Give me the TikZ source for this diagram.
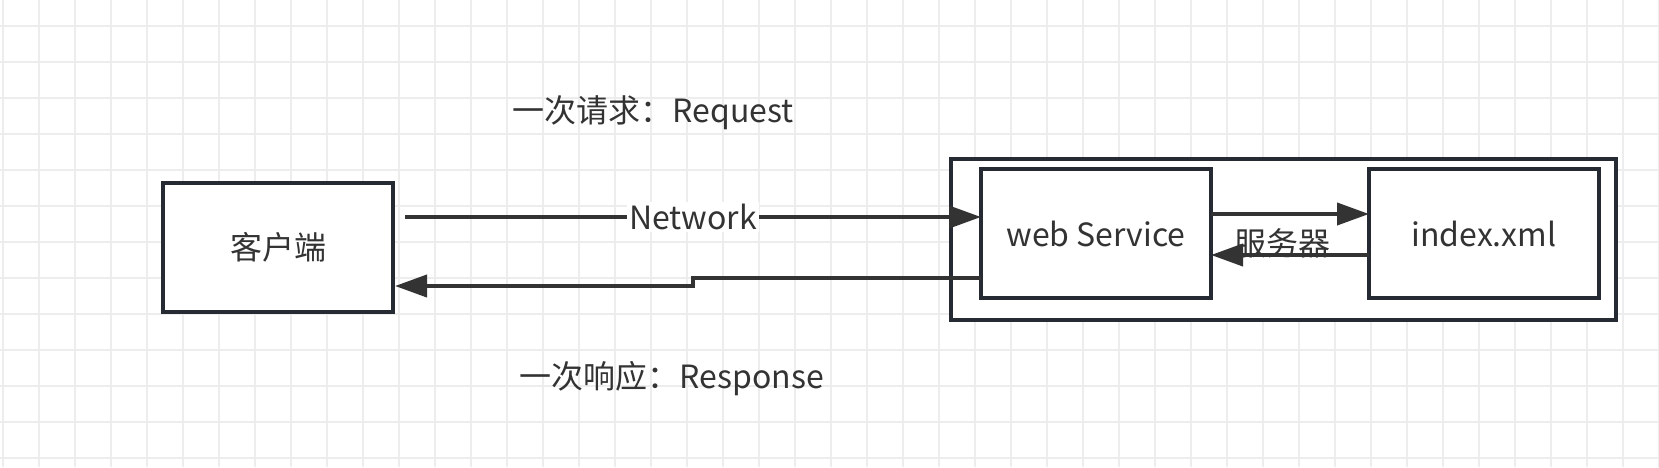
\documentclass[tikz,border=0pt]{standalone}
\usepackage{fontspec}
\setmainfont{Noto Sans CJK SC}
\usetikzlibrary{arrows.meta, positioning}
\definecolor{boxline}{HTML}{262B33}
\definecolor{arrowline}{HTML}{333333}
\definecolor{textcol}{HTML}{333333}
\definecolor{gridcol}{HTML}{EDEDED}

\begin{document}
\begin{tikzpicture}[
  x=0.5pt, y=-0.5pt,
  box/.style={rectangle, draw=boxline, line width=2pt, fill=white,
              minimum width=115pt, minimum height=64.5pt, outer sep=0pt,
              align=center, text=textcol, font=\fontsize{16}{19}\selectfont},
  frame/.style={rectangle, draw=boxline, line width=2pt, fill=white,
              minimum width=332.5pt, minimum height=80.5pt, outer sep=0pt},
  arrow/.style={-{Triangle[length=16pt, width=11pt]}, line width=2pt, draw=arrowline},
  txt/.style={text=textcol, font=\fontsize{16}{19}\selectfont, inner sep=1pt},
  gridline/.style={draw=gridcol, line width=0.75pt}
]
\useasboundingbox (0,0) rectangle (1659,467);

% background grid
\foreach \gx in {3,39,...,1659} \draw[gridline] (\gx,0) -- (\gx,467);
\foreach \gy in {26,62,...,467} \draw[gridline] (0,\gy) -- (1659,\gy);

\node[box] (client) at (278,247) {客户端};
\node[frame] (server) at (1283.5,239.5) {};
\node[box] (web) at (1096,233.5) {web Service};
\node[box, right=79pt of web] (index) {index.xml};

\node[txt] (request) at (653,113) {一次请求：Request};
\node[txt] (response) at (672,379) {一次响应：Response};

% client <-> web service
\coordinate (netstart) at (405,217);
\coordinate (bend) at (693,278);
\draw[arrow] (netstart) -- node[txt, fill=white] (network) {Network} (web.west |- netstart);
\draw[arrow] (web.west |- bend) -- (bend) -- ++(0,8) -- ([xshift=1pt]client.east |- 0,286);

% web service <-> index.xml
\draw[arrow] (web.east |- 0,214) -- (index.west |- 0,214);
\draw[arrow] (index.west |- 0,255) -- (web.east |- 0,255);
\node[txt] (serverlabel) at (1282,243) {服务器};

\end{tikzpicture}
\end{document}
